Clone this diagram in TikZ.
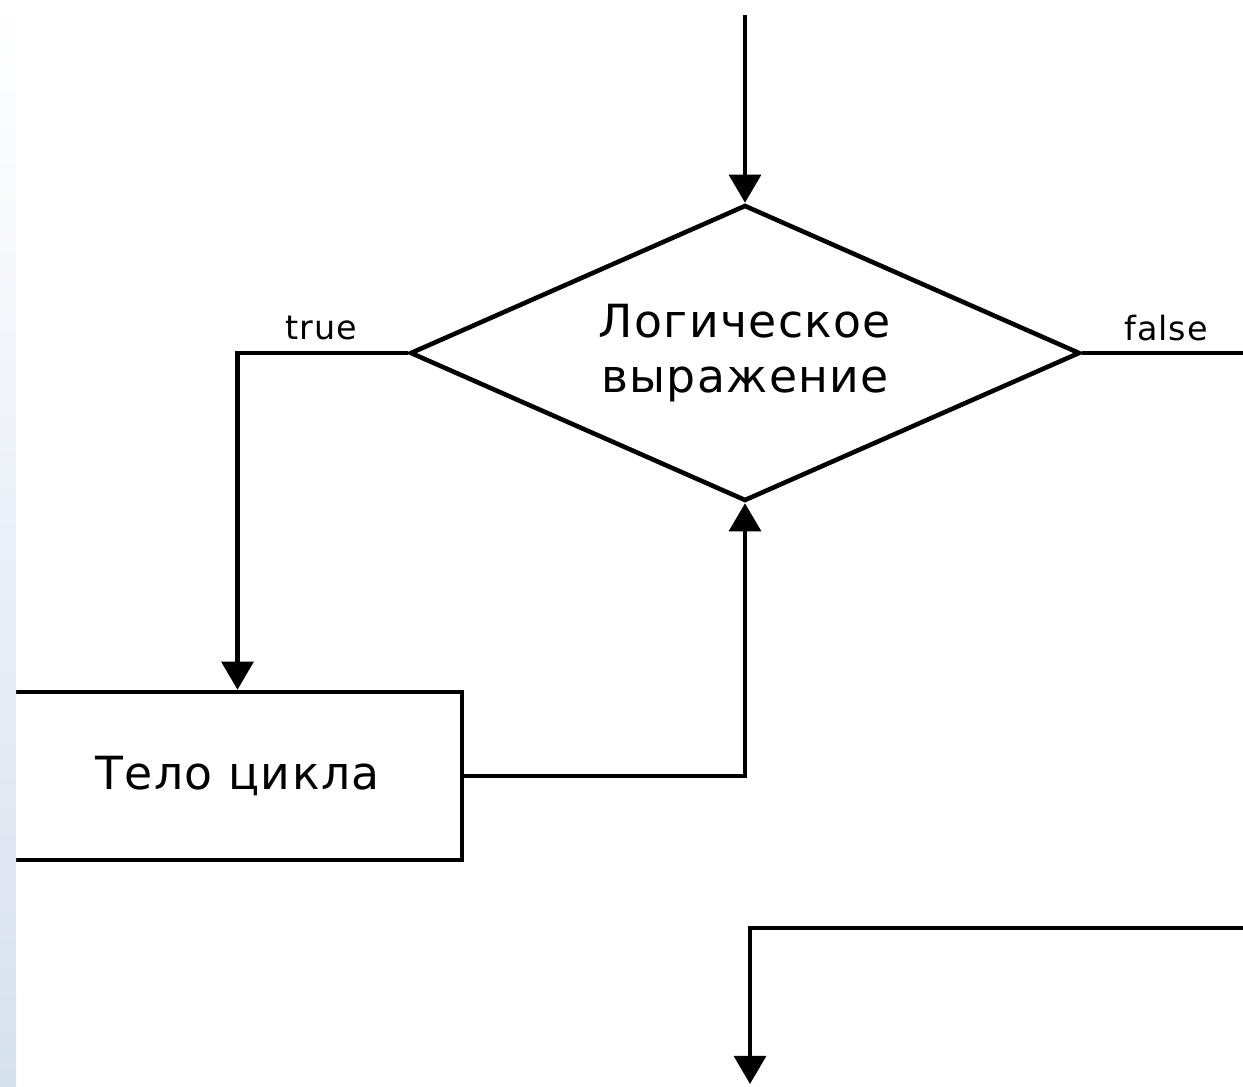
\documentclass[tikz,border=0pt]{standalone}
\usepackage{fontspec}
\setmainfont{DejaVu Sans}
\newfontfamily\spacedfont[LetterSpace=3]{DejaVu Sans}
\usetikzlibrary{shapes.geometric,arrows.meta,positioning}

\begin{document}
\begin{tikzpicture}[
    x=0.02cm, y=-0.02cm,
    line width=2.6pt,
    decision/.style={draw, diamond, aspect=2.26, minimum width=13.4cm,
                     minimum height=5.92cm, inner sep=0pt, align=center,
                     font=\spacedfont\fontsize{26}{31}\selectfont},
    body/.style={draw, rectangle, minimum width=8.98cm, minimum height=3.36cm,
                 font=\spacedfont\fontsize{26}{31}\selectfont},
    lbl/.style={font=\spacedfont\fontsize{19}{22}\selectfont},
    arr/.style={-{Triangle[length=16pt,width=18pt]}}
]
    \useasboundingbox (0,0) rectangle (1243,1086);

    % Decision and loop body
    \node[decision] (cond) at (745,353) {Логическое\\выражение};
    \node[body] (loop) at (237.5,776) {Тело цикла};

    % Free ends
    \coordinate (entry) at (745,15);
    \coordinate (falseend) at (1243,353);
    \coordinate (after) at (1243,928);
    \coordinate (exit) at (750,1084);

    % Arrows
    \draw[arr] (entry) -- (cond.north);
    \draw[arr] (cond.west) -| (loop.north);
    \draw[arr] (loop.east) -| (cond.south);
    \draw (cond.east) -- (falseend);
    \draw[arr] (after) -| (exit);

    % Branch labels
    \node[lbl] (truelbl) at (321,328) {true};
    \node[lbl] (falselbl) at (1166,328) {false};

    % Slide strip at the left edge
    \shade[top color=white, bottom color={rgb,255:red,214;green,225;blue,238}]
        (0,0) rectangle (16,1086);
\end{tikzpicture}
\end{document}
